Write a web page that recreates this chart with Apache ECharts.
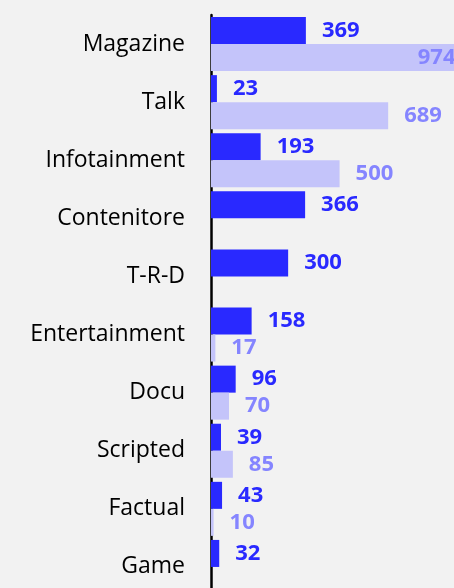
<!DOCTYPE html>
<html>
<head>
<meta charset="utf-8">
<script src="https://cdn.jsdelivr.net/npm/echarts@6/dist/echarts.min.js"></script>
<style>
  html, body { margin: 0; padding: 0; background: #f2f2f2; overflow: hidden; }
  /* the plot runs past the right and bottom edges, so the chart is larger
     than the visible frame and gets cropped by it */
  #frame { width: 454px; height: 588px; overflow: hidden; position: relative; }
  #main { width: 517px; height: 596px; position: absolute; left: 0; top: 0; }
</style>
</head>
<body>
<div id="frame"><div id="main"></div></div>
<script>
const categories = ['Magazine', 'Talk', 'Infotainment', 'Contenitore', 'T-R-D',
  'Entertainment', 'Docu', 'Scripted', 'Factual', 'Game']
const darkValues = [369, 23, 193, 366, 300, 158, 96, 39, 43, 32]
const lightValues = [974, 689, 500, null, null, 17, 70, 85, 10, null]

const myChart = echarts.init(document.getElementById('main'))

// value that runs off the right edge: put its label back inside the frame
const lightData = lightValues.map(function (v) {
  if (v !== null && v > 900) {
    return { value: v, label: { position: 'insideRight', distance: 6 } }
  }
  return v
})

var option = {
  backgroundColor: '#f2f2f2',
  animation: false,
  grid: { left: 211, right: 0, top: 15, bottom: 0 },
  xAxis: {
    type: 'value',
    min: 0,
    max: 1190,
    show: false,
  },
  yAxis: {
    type: 'category',
    data: categories,
    inverse: true,
    axisLine: { lineStyle: { color: '#000', width: 2.5 } },
    axisTick: { show: false },
    axisLabel: {
      color: '#000',
      fontFamily: 'Open Sans',
      fontSize: 23,
      margin: 26,
    },
  },
  series: [
    {
      type: 'bar',
      data: darkValues,
      barGap: '0%',
      barCategoryGap: '7%',
      itemStyle: { color: '#2929ff' },
      label: {
        show: true,
        position: 'right',
        distance: 16,
        color: '#2929ff',
        fontFamily: 'Open Sans',
        fontWeight: 'bold',
        fontSize: 22,
      },
    },
    {
      type: 'bar',
      data: lightData,
      barGap: '0%',
      barCategoryGap: '7%',
      itemStyle: { color: '#c4c4fa' },
      label: {
        show: true,
        position: 'right',
        distance: 16,
        color: '#8585ff',
        fontFamily: 'Open Sans',
        fontWeight: 'bold',
        fontSize: 22,
      },
    },
  ],
}

myChart.setOption(option)
</script>
</body>
</html>
